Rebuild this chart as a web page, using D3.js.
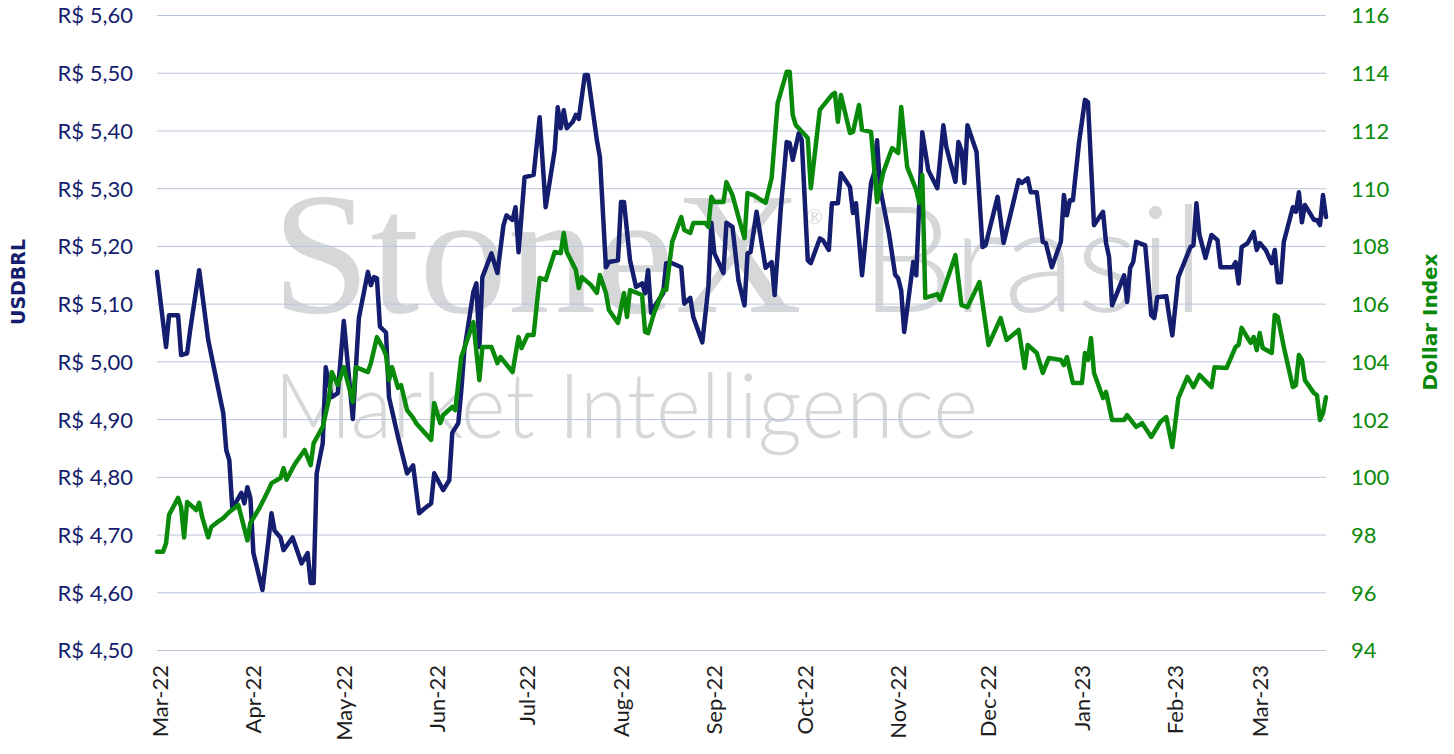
<!DOCTYPE html>
<html>
<head>
<meta charset="utf-8">
<script src="https://cdn.jsdelivr.net/npm/d3@7/dist/d3.min.js"></script>
<style>
  html, body { margin: 0; padding: 0; background: #ffffff; }
  svg { display: block; }
</style>
</head>
<body>
<svg id="chart" width="1454" height="754"></svg>
<script>
// ---- Data ----
// Start date of the period; day offsets are counted from it.
const startDate = "2022-03-01";
const endDate = "2023-03-24";

// USDBRL (left axis, R$)
const brlDays = [0,3,4,7,8,10,11,14,17,22,23,24,25,27,28,29,30,31,32,35,37,38,39,41,42,45,48,50,51,52,53,55,56,58,60,62,65,67,70,71,72,73,74,76,77,80,83,85,87,89,91,92,95,97,98,100,101,102,105,106,107,108,111,113,115,116,118,119,120,122,125,127,129,132,133,134,135,136,138,139,140,142,143,146,147,149,150,153,154,155,157,159,161,162,163,164,165,168,169,171,174,175,177,178,181,183,184,185,188,189,191,193,195,196,197,199,202,204,205,207,209,210,211,213,214,216,217,220,221,223,224,226,227,230,231,232,234,237,238,239,240,243,245,246,247,248,251,252,254,256,259,261,262,265,266,267,268,269,272,274,275,279,281,286,287,289,290,292,294,295,297,300,301,302,303,304,306,308,309,311,314,315,316,317,321,322,323,324,325,328,330,331,332,335,336,337,339,341,343,344,345,346,348,350,352,353,357,358,359,360,362,364,365,366,368,370,371,372,373,374,377,378,379,380,381,384,385,386,387,388];
const brlValues = [5.155,5.025,5.08,5.08,5.011,5.014,5.054,5.158,5.037,4.91,4.846,4.829,4.745,4.763,4.772,4.754,4.782,4.763,4.668,4.604,4.69,4.737,4.707,4.695,4.673,4.695,4.65,4.668,4.616,4.616,4.806,4.858,4.99,4.938,4.945,5.07,4.90,5.075,5.155,5.132,5.146,5.144,5.06,5.05,4.938,4.869,4.806,4.82,4.737,4.746,4.754,4.806,4.777,4.794,4.876,4.893,4.95,5.019,5.12,5.135,5.025,5.146,5.187,5.153,5.236,5.253,5.245,5.267,5.189,5.319,5.323,5.423,5.267,5.366,5.44,5.404,5.435,5.404,5.415,5.427,5.42,5.496,5.496,5.383,5.354,5.163,5.172,5.175,5.276,5.276,5.175,5.129,5.135,5.118,5.158,5.084,5.094,5.118,5.17,5.17,5.163,5.10,5.11,5.077,5.033,5.129,5.24,5.187,5.153,5.24,5.233,5.14,5.097,5.187,5.189,5.259,5.162,5.172,5.115,5.262,5.38,5.378,5.349,5.395,5.383,5.175,5.17,5.213,5.21,5.193,5.274,5.274,5.326,5.302,5.257,5.274,5.149,5.309,5.326,5.383,5.30,5.22,5.15,5.144,5.123,5.051,5.172,5.149,5.397,5.331,5.30,5.409,5.371,5.311,5.38,5.366,5.309,5.409,5.363,5.198,5.201,5.285,5.205,5.314,5.309,5.317,5.293,5.293,5.207,5.205,5.163,5.207,5.288,5.253,5.279,5.279,5.378,5.453,5.449,5.236,5.259,5.205,5.181,5.097,5.149,5.103,5.162,5.172,5.207,5.201,5.08,5.075,5.111,5.113,5.077,5.045,5.146,5.172,5.198,5.201,5.274,5.219,5.179,5.219,5.21,5.163,5.163,5.172,5.135,5.198,5.205,5.224,5.193,5.205,5.193,5.17,5.193,5.137,5.137,5.207,5.267,5.259,5.293,5.241,5.271,5.245,5.245,5.236,5.288,5.25];

// Dollar Index (right axis)
const dxyDays = [0,2,3,4,7,8,9,10,13,14,15,17,18,20,22,24,27,30,31,34,37,38,41,42,43,45,46,49,51,52,55,57,58,60,62,65,66,70,71,73,75,76,77,78,80,81,83,85,86,91,92,94,95,98,99,101,105,107,108,111,113,114,118,120,121,123,125,127,129,132,134,135,136,139,140,141,144,146,147,149,150,153,155,156,157,161,162,163,165,168,169,171,174,175,177,178,182,183,184,185,188,189,191,193,195,196,198,202,204,206,209,210,211,212,216,217,220,224,225,226,227,230,231,233,234,237,239,241,244,246,247,249,252,253,254,255,259,260,265,267,269,273,276,280,282,286,288,289,292,294,296,300,301,302,304,307,308,309,310,311,314,315,317,321,322,325,327,330,333,335,337,339,342,343,344,346,350,351,355,358,359,360,362,363,364,365,366,367,370,371,372,374,377,378,379,380,381,384,385,386,387,388];
const dxyValues = [97.4,97.4,97.7,98.68,99.27,98.95,97.9,99.13,98.85,99.1,98.6,97.9,98.26,98.43,98.57,98.78,99.02,97.8,98.4,98.92,99.54,99.78,99.96,100.3,99.9,100.3,100.48,100.93,100.4,101.17,101.73,102.66,103.63,103.18,103.8,102.59,103.8,103.63,103.94,104.84,104.46,104.22,103.35,103.8,103.08,103.18,102.31,102.04,101.86,101.28,102.56,101.86,102.14,102.42,102.31,104.15,105.36,103.35,104.5,104.5,103.94,104.15,103.63,104.84,104.46,104.91,104.91,106.89,106.82,107.79,107.75,108.45,107.79,107.17,106.54,106.92,106.65,106.37,106.99,106.37,105.78,105.33,106.37,105.54,106.47,106.3,105.02,104.98,105.68,106.47,106.47,108.14,109.0,108.55,108.45,108.79,108.79,108.66,109.7,109.52,109.52,110.21,109.76,109.0,108.27,109.83,109.76,109.49,110.35,112.95,114.03,114.03,112.54,112.19,111.74,110.0,112.71,113.23,113.3,112.3,113.23,111.91,111.95,112.88,112.02,111.95,109.52,110.53,111.39,111.22,112.81,110.73,109.94,109.49,110.46,106.2,106.33,106.13,107.68,105.95,105.88,106.75,104.57,105.5,104.74,105.09,103.77,104.57,104.29,103.6,104.12,104.05,103.87,104.15,103.25,103.25,104.29,104.05,104.81,103.6,102.73,102.94,101.97,101.97,102.14,101.73,101.86,101.38,101.9,102.07,101.03,102.73,103.46,103.29,103.11,103.53,103.11,103.8,103.77,104.5,104.57,105.16,104.81,104.64,104.84,104.39,104.98,104.46,104.29,105.61,105.54,104.5,103.11,103.18,104.22,104.05,103.35,102.9,102.83,101.97,102.21,102.76];

// Axis ticks
const brlTicks = [4.5,4.6,4.7,4.8,4.9,5.0,5.1,5.2,5.3,5.4,5.5,5.6];
const dxyTicks = [94,96,98,100,102,104,106,108,110,112,114,116];
const monthTicks = ["2022-03-01","2022-04-01","2022-05-01","2022-06-01","2022-07-01","2022-08-01","2022-09-01","2022-10-01","2022-11-01","2022-12-01","2023-01-01","2023-02-01","2023-03-01"];

const seriesNames = ["USDBRL", "Dollar Index"];
const watermark = ["StoneX", "®", "Brasil", "Market Intelligence"];

// ---- Drawing ----
const svg = d3.select("#chart");
const NAVY = "#141d6e";
const GREEN = "#0a8a0a";
const GRID = "#b9c5da";
const FONT = "Lato, 'Open Sans', sans-serif";

const pL = 157, pR = 1326, pT = 15, pB = 650;
const parse = d3.utcParse("%Y-%m-%d");
const t0 = parse(startDate);

const x = d3.scaleUtc().domain([t0, parse(endDate)]).range([pL, pR]);
const yL = d3.scaleLinear().domain([4.5, 5.6]).range([pB, pT]);
const yR = d3.scaleLinear().domain([94, 116]).range([pB, pT]);

// watermark
const wm = svg.append("g").attr("fill", "#d6d7d9");
wm.append("text").text(watermark[0])
  .attr("x", 272).attr("y", 312)
  .attr("font-family", "'Liberation Serif', 'DejaVu Serif', serif")
  .attr("font-size", 174)
  .attr("textLength", 530).attr("lengthAdjust", "spacingAndGlyphs");
wm.append("text").text(watermark[1])
  .attr("x", 806).attr("y", 224)
  .attr("font-family", "'Liberation Serif', serif")
  .attr("font-size", 22);
wm.append("text").text(watermark[2])
  .attr("x", 860).attr("y", 312)
  .attr("font-family", FONT).attr("font-weight", 300)
  .attr("font-size", 149)
  .attr("textLength", 345).attr("lengthAdjust", "spacingAndGlyphs");
wm.append("text").text(watermark[3])
  .attr("x", 274).attr("y", 438)
  .attr("font-family", FONT).attr("font-weight", 300)
  .attr("font-size", 90)
  .attr("textLength", 704).attr("lengthAdjust", "spacingAndGlyphs");

// gridlines
const gL = d3.axisLeft(yL).tickValues(brlTicks).tickSize(-(pR - pL)).tickFormat("");
svg.append("g").attr("transform", `translate(${pL},0)`).call(gL)
  .call(g => g.select(".domain").remove())
  .call(g => g.selectAll("line").attr("stroke", GRID).attr("stroke-width", 1));

// left axis labels
const fmtBRL = v => "R$ " + d3.format(".2f")(v).replace(".", ",");
const axL = d3.axisLeft(yL).tickValues(brlTicks).tickSize(0).tickPadding(0).tickFormat(fmtBRL);
svg.append("g").attr("transform", "translate(133,0)").call(axL)
  .call(g => g.select(".domain").remove())
  .call(g => g.selectAll("text").attr("fill", NAVY).attr("font-family", FONT).attr("font-size", 22).attr("dy", "0.36em"));

// right axis labels
const axR = d3.axisRight(yR).tickValues(dxyTicks).tickSize(0).tickPadding(0).tickFormat(d3.format("d"));
svg.append("g").attr("transform", "translate(1351,0)").call(axR)
  .call(g => g.select(".domain").remove())
  .call(g => g.selectAll("text").attr("fill", GREEN).attr("font-family", FONT).attr("font-size", 22).attr("dy", "0.36em"));

// x axis labels (rotated)
const axX = d3.axisBottom(x).tickValues(monthTicks.map(parse)).tickSize(0).tickPadding(0)
  .tickFormat(d3.utcFormat("%b-%y"));
svg.append("g").call(axX)
  .call(g => g.select(".domain").remove())
  .call(g => g.selectAll(".tick").attr("transform", d => `translate(${x(d) + 3},665)`))
  .call(g => g.selectAll("text")
    .attr("y", 0).attr("x", 0).attr("dy", "0.36em")
    .attr("transform", "rotate(-90)")
    .attr("text-anchor", "end")
    .attr("fill", "#1e1e1e").attr("font-family", FONT).attr("font-size", 22));

// axis titles
svg.append("text").text(seriesNames[0])
  .attr("transform", "translate(25,282) rotate(-90)")
  .attr("text-anchor", "middle")
  .attr("fill", NAVY).attr("font-family", "'DejaVu Sans', sans-serif").attr("font-weight", "bold").attr("font-size", 19);
svg.append("text").text(seriesNames[1])
  .attr("transform", "translate(1437,322) rotate(-90)")
  .attr("text-anchor", "middle")
  .attr("fill", GREEN).attr("font-family", "'DejaVu Sans', sans-serif").attr("font-weight", "bold").attr("font-size", 20);

// lines
const brl = brlDays.map((d, i) => ({ date: d3.utcDay.offset(t0, d), v: brlValues[i] }));
const dxy = dxyDays.map((d, i) => ({ date: d3.utcDay.offset(t0, d), v: dxyValues[i] }));

svg.append("path").datum(brl)
  .attr("fill", "none").attr("stroke", NAVY).attr("stroke-width", 4.5)
  .attr("stroke-linejoin", "round").attr("stroke-linecap", "round")
  .attr("d", d3.line().x(d => x(d.date)).y(d => yL(d.v)));

svg.append("path").datum(dxy)
  .attr("fill", "none").attr("stroke", GREEN).attr("stroke-width", 4.5)
  .attr("stroke-linejoin", "round").attr("stroke-linecap", "round")
  .attr("d", d3.line().x(d => x(d.date)).y(d => yR(d.v)));
</script>
</body>
</html>
